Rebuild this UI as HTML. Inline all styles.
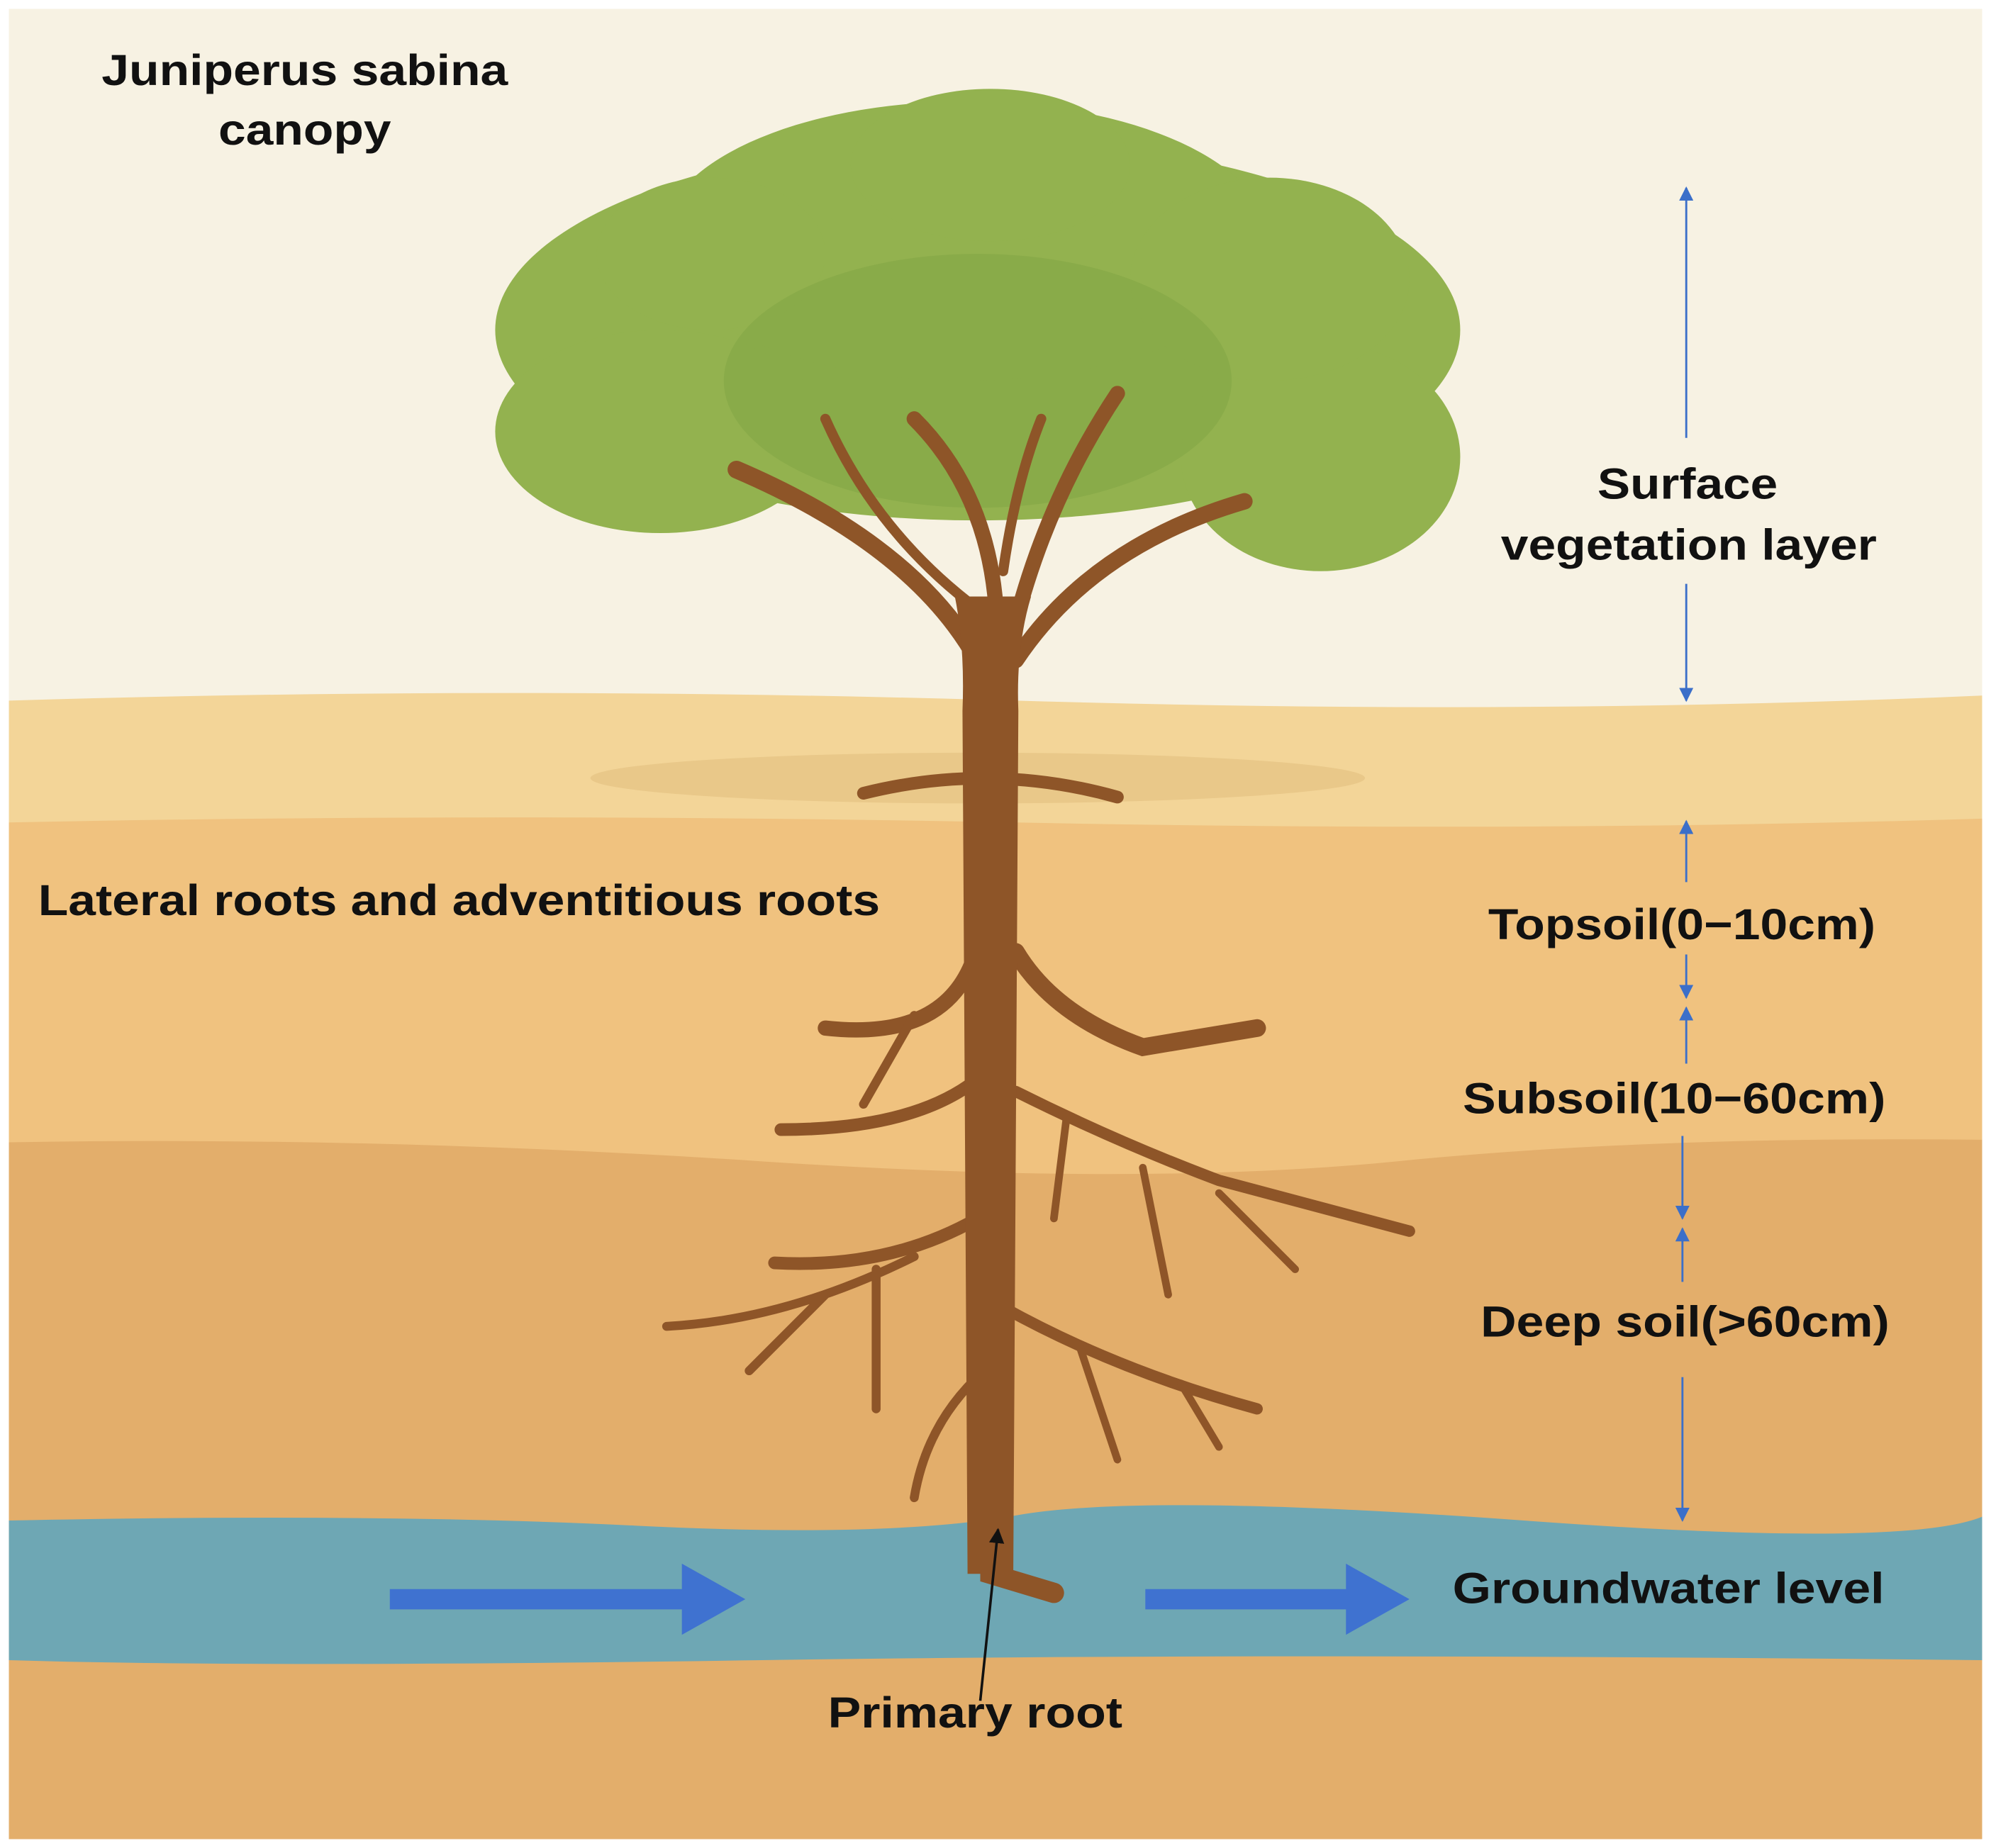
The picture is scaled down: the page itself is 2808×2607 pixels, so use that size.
<!DOCTYPE html>
<html><head><meta charset="utf-8"><style>
html,body{margin:0;padding:0;background:#fff}
svg{display:block}
text{font-family:"Liberation Sans",sans-serif;font-weight:bold;fill:#111}
</style></head><body>
<svg width="2808" height="2607" viewBox="0 0 1568 1456" preserveAspectRatio="none" xmlns="http://www.w3.org/2000/svg">
<defs>
<marker id="ah" viewBox="0 0 10 10" refX="9" refY="5" markerWidth="7" markerHeight="7" orient="auto-start-reverse"><path d="M0,0 L10,5 L0,10 z" fill="#3b6fc9"/></marker>
<marker id="ak" viewBox="0 0 10 10" refX="9" refY="5" markerWidth="6" markerHeight="6" orient="auto"><path d="M0,0 L10,5 L0,10 z" fill="#111"/></marker>
</defs>
<rect width="1568" height="1456" fill="#fff"/>
<rect x="7" y="7" width="1554" height="1442" fill="#f7f2e3"/>
<path d="M7,552 Q400,540 800,552 T1561,548 V1449 H7z" fill="#f3d598"/>
<ellipse cx="770" cy="613" rx="305" ry="20" fill="#e9c889"/>
<path d="M7,648 Q400,640 800,648 T1561,645 V1449 H7z" fill="#f0c27f"/>
<path d="M7,900 Q300,895 600,915 T1100,915 T1561,898 V1449 H7z" fill="#e3ae6b"/>
<path d="M7,1198 Q300,1192 500,1202 T800,1194 T1200,1198 T1561,1195 V1308 Q1000,1302 600,1308 T7,1308z" fill="#6ea7b4"/>
<g fill="#93b24f">
<ellipse cx="770" cy="260" rx="380" ry="150"/>
<ellipse cx="760" cy="190" rx="240" ry="110"/>
<ellipse cx="780" cy="130" rx="110" ry="60"/>
<ellipse cx="520" cy="340" rx="130" ry="80"/>
<ellipse cx="1040" cy="360" rx="110" ry="90"/>
<ellipse cx="560" cy="200" rx="90" ry="60"/>
<ellipse cx="1000" cy="220" rx="110" ry="80"/>
</g>
<ellipse cx="770" cy="300" rx="200" ry="100" fill="#7fa343" opacity="0.5"/>
<g stroke="#8e5528" fill="none" stroke-linecap="round">
<path d="M780,1000 V1240 L830,1255" stroke-width="16"/>
<path d="M680,625 Q780,600 880,628" stroke-width="10"/>
<path d="M770,520 Q720,430 580,370" stroke-width="14"/>
<path d="M785,520 Q790,400 720,330" stroke-width="12"/>
<path d="M795,510 Q820,400 880,310" stroke-width="12"/>
<path d="M800,520 Q860,430 980,395" stroke-width="13"/>
<path d="M770,480 Q690,420 650,330" stroke-width="8"/>
<path d="M790,450 Q800,380 820,330" stroke-width="8"/>
<path d="M800,750 Q830,800 900,825 L990,810" stroke-width="14"/>
<path d="M765,760 Q740,820 650,810" stroke-width="12"/>
<path d="M720,800 L680,870" stroke-width="7"/>
<path d="M770,850 Q720,890 615,890" stroke-width="10"/>
<path d="M800,860 Q880,900 960,930 L1110,970" stroke-width="9"/>
<path d="M840,880 L830,960 M900,920 L920,1020 M960,940 L1020,1000" stroke-width="6"/>
<path d="M770,960 Q700,1000 610,995" stroke-width="10"/>
<path d="M720,990 Q620,1040 525,1045 M650,1020 L590,1080 M690,1000 L690,1110" stroke-width="7"/>
<path d="M790,1030 Q880,1080 990,1110" stroke-width="9"/>
<path d="M850,1060 L880,1150 M930,1090 L960,1140" stroke-width="6"/>
<path d="M775,1080 Q730,1120 720,1180" stroke-width="7"/>
</g>
<path d="M752,470 Q760,510 758,560 L762,1240 L798,1240 L802,560 Q800,510 812,470 Z" fill="#8e5528"/>
<g stroke="#3b6fc9" stroke-width="1.6" fill="none">
<line x1="1328" y1="345" x2="1328" y2="148" marker-end="url(#ah)"/>
<line x1="1328" y1="460" x2="1328" y2="552" marker-end="url(#ah)"/>
<line x1="1328" y1="695" x2="1328" y2="647" marker-end="url(#ah)"/>
<line x1="1328" y1="752" x2="1328" y2="786" marker-end="url(#ah)"/>
<line x1="1328" y1="838" x2="1328" y2="794" marker-end="url(#ah)"/>
<line x1="1325" y1="895" x2="1325" y2="960" marker-end="url(#ah)"/>
<line x1="1325" y1="1010" x2="1325" y2="968" marker-end="url(#ah)"/>
<line x1="1325" y1="1085" x2="1325" y2="1198" marker-end="url(#ah)"/>
</g>
<g fill="#3f72d0">
<path d="M307,1252 H537 V1232 L587,1260 L537,1288 V1268 H307z"/>
<path d="M902,1252 H1060 V1232 L1110,1260 L1060,1288 V1268 H902z"/>
</g>
<line x1="772" y1="1340" x2="786" y2="1205" stroke="#111" stroke-width="2" marker-end="url(#ak)"/>
<g font-size="34">
<text x="80" y="67" textLength="320" lengthAdjust="spacingAndGlyphs">Juniperus sabina</text>
<text x="172" y="114" textLength="136" lengthAdjust="spacingAndGlyphs">canopy</text>
<text x="1258" y="393" textLength="142" lengthAdjust="spacingAndGlyphs">Surface</text>
<text x="1182" y="441" textLength="296" lengthAdjust="spacingAndGlyphs">vegetation layer</text>
<text x="30" y="721" textLength="663" lengthAdjust="spacingAndGlyphs">Lateral roots and adventitious roots</text>
<text x="1172" y="740" textLength="305" lengthAdjust="spacingAndGlyphs">Topsoil(0−10cm)</text>
<text x="1152" y="877" textLength="333" lengthAdjust="spacingAndGlyphs">Subsoil(10−60cm)</text>
<text x="1166" y="1053" textLength="322" lengthAdjust="spacingAndGlyphs">Deep soil(&gt;60cm)</text>
<text x="1144" y="1263" textLength="340" lengthAdjust="spacingAndGlyphs">Groundwater level</text>
<text x="652" y="1361" textLength="232" lengthAdjust="spacingAndGlyphs">Primary root</text>
</g>
</svg>
</body></html>
